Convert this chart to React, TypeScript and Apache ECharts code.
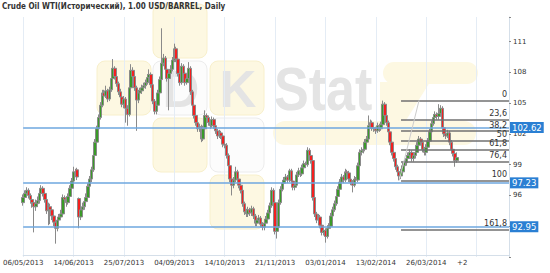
import React, { useEffect, useRef } from 'react';
import * as echarts from 'echarts';

const TITLE = 'Crude Oil WTI(Исторический), 1.00 USD/BARREL, Daily';
const dateLabels = ['06/05/2013', '14/06/2013', '25/07/2013', '04/09/2013', '14/10/2013', '21/11/2013', '03/01/2014', '13/02/2014', '26/03/2014'];
const labelStep = 28;
const extraLabel = '+2';
const extraLabelIndex = 244;
const categoryCount = 271;
const yTickLabels = [96, 99, 102, 105, 108, 111];
const levelLines = [102.62, 97.23, 92.95];
const fibHigh = 105.26;
const fibLow = 97.47;
const fibLevels = [0, 23.6, 38.2, 50, 61.8, 76.4, 100, 161.8];
const fibStartIndex = 210;
const trendStart = [209, 97.47];
const trendEnd = [220, 105.26];

// [open, close, low, high]
const ohlc: number[][] = [
  [95.3, 95.8, 95.0, 96.1], [95.8, 96.2, 95.5, 96.5], [96.2, 96.5, 95.9, 96.8], [96.5, 96.0, 95.7, 96.7],
  [96.0, 95.6, 95.2, 96.2], [95.6, 95.3, 94.8, 95.9], [95.3, 94.9, 92.4, 95.5], [94.9, 95.2, 94.5, 95.6],
  [95.2, 95.5, 94.9, 95.9], [95.5, 96.2, 95.2, 96.5], [96.2, 96.7, 95.9, 97.0], [96.7, 96.2, 95.9, 96.9],
  [96.2, 95.6, 95.3, 96.4], [95.6, 94.5, 94.2, 95.8], [94.5, 94.9, 93.1, 95.3], [94.9, 94.6, 93.2, 95.2],
  [94.6, 94.0, 93.6, 94.9], [94.0, 93.4, 93.0, 94.3], [93.4, 92.8, 91.3, 93.7], [92.8, 93.6, 92.5, 93.9],
  [93.6, 93.9, 93.3, 94.2], [93.9, 94.2, 93.6, 94.6], [94.2, 95.8, 94.0, 96.1], [95.8, 95.6, 95.2, 96.0],
  [95.6, 95.3, 94.9, 95.8], [95.3, 95.9, 95.1, 96.2], [95.9, 96.7, 95.7, 97.0], [96.7, 97.4, 96.5, 97.7],
  [97.4, 98.3, 97.2, 98.8], [98.3, 98.0, 97.8, 98.6], [98.5, 97.8, 97.5, 98.7], [95.7, 93.9, 92.8, 95.8],
  [93.9, 94.6, 93.6, 95.0], [94.6, 94.9, 94.2, 95.3], [94.9, 95.4, 94.6, 95.7], [95.4, 95.8, 95.0, 96.2],
  [95.8, 96.9, 95.6, 97.2], [96.9, 97.6, 96.6, 97.9], [97.6, 98.5, 97.3, 98.8], [98.5, 99.9, 98.3, 100.2],
  [99.9, 101.2, 99.7, 101.5], [101.2, 102.5, 101.0, 102.8], [102.5, 103.6, 102.3, 103.9], [103.6, 104.8, 103.4, 105.1],
  [104.8, 106.0, 104.6, 106.3], [106.0, 105.7, 105.3, 106.3], [105.7, 106.2, 105.5, 106.7], [106.2, 105.4, 105.1, 106.4],
  [105.4, 106.3, 105.2, 106.6], [106.3, 107.4, 106.1, 107.7], [107.4, 108.4, 107.2, 109.3], [108.4, 107.6, 107.3, 108.6],
  [107.6, 106.9, 106.6, 107.9], [106.9, 106.1, 105.8, 107.1], [106.1, 105.6, 105.2, 106.4], [105.6, 104.9, 104.6, 105.9],
  [104.9, 105.4, 104.5, 105.7], [105.4, 104.5, 103.1, 105.6], [104.5, 103.9, 102.8, 104.8], [103.9, 106.5, 103.7, 106.8],
  [106.5, 108.2, 106.3, 108.8], [108.2, 107.6, 107.3, 108.5], [107.6, 106.5, 106.2, 107.8], [106.5, 105.3, 102.3, 106.7],
  [105.3, 106.0, 105.0, 106.3], [106.0, 106.2, 105.7, 106.5], [106.2, 106.5, 105.9, 106.8], [106.5, 106.7, 106.2, 107.0],
  [106.7, 107.0, 106.4, 107.3], [107.0, 107.5, 106.8, 107.8], [107.5, 107.8, 107.2, 108.3], [107.8, 106.8, 106.5, 108.0],
  [106.8, 105.2, 104.9, 107.0], [105.2, 104.2, 103.9, 105.4], [104.2, 104.8, 103.9, 105.1], [104.8, 106.0, 104.6, 106.3],
  [106.0, 107.3, 105.8, 107.6], [107.3, 108.9, 107.1, 112.3], [108.9, 109.4, 108.6, 109.8], [109.4, 108.3, 108.0, 109.6],
  [108.3, 107.4, 107.1, 108.6], [107.4, 107.9, 104.3, 108.2], [107.9, 108.3, 107.6, 108.7], [108.3, 109.2, 108.1, 109.5],
  [109.2, 110.3, 109.0, 110.8], [110.3, 109.3, 109.0, 110.5], [109.3, 107.9, 107.6, 109.5], [107.9, 107.0, 106.7, 108.2],
  [107.0, 108.6, 106.8, 108.9], [108.6, 107.9, 107.6, 108.8], [107.9, 107.0, 106.7, 108.1], [107.0, 107.4, 106.8, 107.7],
  [107.4, 108.4, 107.2, 109.0], [108.4, 106.1, 105.8, 108.6], [106.1, 104.8, 104.5, 106.3], [104.8, 103.8, 103.5, 105.0],
  [103.8, 103.1, 102.8, 104.0], [103.1, 102.5, 102.2, 103.3], [102.5, 102.7, 102.2, 103.0], [102.7, 101.5, 101.2, 102.9],
  [101.5, 102.5, 101.3, 102.8], [102.5, 103.8, 102.3, 104.3], [103.8, 103.6, 103.3, 104.0], [103.6, 103.1, 102.8, 103.8],
  [103.1, 102.8, 102.5, 103.3], [102.8, 103.4, 102.6, 103.7], [103.4, 102.8, 102.5, 103.6], [102.8, 102.3, 102.0, 103.0],
  [102.3, 101.8, 101.5, 102.5], [101.8, 102.1, 101.6, 102.4], [102.1, 101.8, 101.5, 102.3], [101.8, 101.0, 100.7, 102.0],
  [101.0, 100.9, 100.6, 101.2], [100.9, 99.9, 99.6, 101.1], [99.9, 98.9, 98.6, 100.1], [98.9, 97.6, 97.3, 99.1],
  [97.6, 97.0, 96.0, 97.8], [97.0, 97.5, 96.7, 97.8], [97.5, 98.3, 97.3, 98.8], [98.3, 97.6, 97.3, 98.5],
  [97.6, 97.0, 96.7, 97.8], [97.0, 96.5, 96.2, 97.2], [96.5, 95.2, 94.9, 96.7], [95.2, 94.4, 94.1, 95.4],
  [94.4, 94.2, 93.9, 94.7], [94.2, 94.6, 93.9, 94.9], [94.6, 94.3, 94.0, 94.8], [94.3, 94.7, 94.0, 95.0],
  [94.7, 94.0, 93.7, 94.9], [94.0, 93.3, 93.0, 94.2], [93.3, 93.6, 93.0, 93.9], [93.6, 93.8, 93.3, 94.1],
  [93.8, 93.2, 92.9, 94.0], [93.2, 92.9, 92.6, 93.4], [92.9, 93.3, 92.6, 93.6], [93.3, 93.7, 93.0, 94.0],
  [93.7, 94.3, 93.5, 94.6], [94.3, 95.0, 94.0, 95.3], [95.0, 96.5, 94.8, 96.8], [96.5, 95.3, 95.0, 96.7],
  [95.3, 92.5, 92.2, 95.5], [92.5, 92.9, 91.8, 93.3], [92.9, 95.3, 92.7, 95.6], [95.3, 96.6, 95.1, 96.9],
  [96.6, 97.2, 96.4, 97.5], [97.2, 97.5, 96.9, 97.8], [97.5, 97.8, 97.2, 98.1], [97.8, 97.5, 97.2, 98.0],
  [97.5, 98.4, 97.3, 98.6], [98.4, 97.4, 97.1, 98.6], [97.4, 96.8, 96.5, 97.6], [96.8, 97.0, 96.5, 97.3],
  [97.0, 98.0, 96.8, 98.3], [98.0, 98.4, 97.8, 98.7], [98.4, 98.1, 97.8, 98.6], [98.1, 98.7, 97.9, 99.0],
  [98.7, 99.1, 98.5, 99.4], [99.1, 99.0, 98.7, 99.3], [99.0, 100.4, 98.8, 100.7], [100.4, 99.9, 99.6, 100.6],
  [99.9, 99.4, 99.1, 100.1], [99.4, 95.8, 95.5, 99.6], [95.8, 94.2, 93.9, 96.0], [94.2, 93.6, 93.3, 94.4],
  [93.6, 93.9, 93.3, 94.2], [93.9, 93.1, 92.8, 94.1], [93.1, 92.4, 92.1, 93.3], [92.4, 92.6, 92.1, 92.9],
  [92.6, 92.0, 91.4, 92.8], [92.0, 92.8, 91.8, 93.1], [92.8, 93.0, 92.5, 93.3], [93.0, 94.0, 92.8, 94.3],
  [94.0, 94.6, 93.8, 94.9], [94.6, 95.2, 94.4, 95.5], [95.2, 95.9, 95.0, 96.2], [95.9, 96.6, 95.7, 96.9],
  [96.6, 97.3, 96.4, 97.6], [97.3, 97.8, 97.1, 98.1], [97.8, 97.5, 97.2, 98.0], [97.5, 98.3, 97.3, 98.6],
  [98.3, 98.2, 97.9, 98.5], [98.2, 97.6, 97.3, 98.4], [97.6, 97.3, 97.0, 97.8], [97.3, 97.0, 96.3, 97.5],
  [97.0, 97.6, 96.8, 97.9], [97.6, 97.5, 97.2, 97.8], [97.5, 98.9, 97.3, 99.2], [98.9, 100.2, 98.7, 100.5],
  [100.2, 100.4, 99.9, 100.7], [100.4, 100.5, 100.1, 100.8], [100.5, 101.2, 100.3, 101.5], [101.2, 101.5, 100.9, 101.8],
  [101.5, 102.8, 101.3, 103.8], [102.8, 103.1, 102.5, 103.4], [103.1, 102.6, 102.3, 103.3], [102.6, 102.5, 102.2, 102.9],
  [102.5, 102.3, 102.0, 102.7], [102.3, 102.8, 102.1, 103.1], [102.8, 102.5, 102.2, 103.0], [102.5, 102.9, 102.3, 103.2],
  [102.9, 104.9, 102.7, 105.25], [104.9, 103.8, 103.5, 105.1], [103.8, 103.1, 102.8, 104.0], [103.1, 102.2, 101.9, 103.3],
  [102.2, 101.2, 100.9, 102.4], [101.2, 100.2, 99.9, 101.4], [100.2, 99.6, 99.3, 100.4], [99.6, 98.8, 98.5, 99.8],
  [98.8, 98.3, 98.0, 99.0], [98.3, 97.9, 97.47, 98.5], [97.9, 98.3, 97.6, 98.6], [98.3, 98.9, 98.1, 99.2],
  [98.9, 99.2, 98.6, 99.5], [99.2, 99.6, 98.9, 99.9], [99.6, 99.9, 99.3, 100.2], [99.9, 100.2, 99.6, 100.5],
  [100.2, 99.6, 99.3, 100.4], [99.6, 99.9, 99.3, 100.2], [99.9, 100.2, 99.6, 100.5], [100.2, 100.9, 100.0, 101.2],
  [100.9, 101.5, 100.7, 101.8], [101.5, 101.2, 100.9, 101.7], [101.2, 100.5, 100.2, 101.4], [100.5, 100.2, 99.9, 100.7],
  [100.2, 100.7, 99.9, 101.0], [100.7, 101.3, 100.5, 101.6], [101.3, 102.2, 101.1, 102.5], [102.2, 103.0, 102.0, 103.3],
  [103.0, 103.6, 102.8, 103.9], [103.6, 103.9, 103.3, 104.2], [103.9, 103.7, 103.4, 104.1], [103.7, 104.0, 103.4, 104.9],
  [104.0, 104.5, 103.8, 104.8], [104.5, 102.6, 102.3, 104.7], [102.6, 102.0, 101.7, 102.8], [102.0, 101.8, 101.5, 102.2],
  [101.8, 102.1, 101.6, 102.4], [102.1, 101.2, 100.9, 102.3], [101.2, 100.5, 100.2, 101.4], [100.5, 100.1, 99.8, 100.7],
  [100.1, 99.4, 98.8, 100.3], [99.4, 99.7, 99.2, 100.2],
];

const wmYellow = '#fdf8e2';
const wmYellowStroke = '#f8f0cc';
const wmWhite = '#fcfcfc';
const wmWhiteStroke = '#ececec';
const wmText = '#e4e4e4';

export default function App() {
  const ref = useRef<HTMLDivElement>(null);
  useEffect(() => {
    if (!ref.current) return;
    const chart = echarts.init(ref.current, undefined, { renderer: 'svg' });
    const categories = Array.from({ length: categoryCount }, (_, i) => {
      if (i % labelStep === 0 && i / labelStep < dateLabels.length) return dateLabels[i / labelStep];
      if (i === extraLabelIndex) return extraLabel;
      return '';
    });
    const lastIndex = categoryCount - 1;

    const markData: any[] = [];
    levelLines.forEach((v) => {
      markData.push({
        yAxis: v,
        lineStyle: { color: '#6ea7df', width: 1.6, type: 'solid' },
        label: {
          show: true,
          position: 'end',
          distance: 1,
          formatter: v.toFixed(2),
          backgroundColor: '#2a7fd3',
          color: '#ffffff',
          fontSize: 8.5,
          lineHeight: 9,
          fontFamily: 'DejaVu Sans',
          padding: [1, 2, 1, 2],
        },
      });
    });
    const range = fibHigh - fibLow;
    fibLevels.forEach((lv) => {
      const price = fibHigh - (range * lv) / 100;
      markData.push([
        {
          coord: [fibStartIndex, price],
          lineStyle: { color: '#707070', width: 1.5, type: 'solid' },
          label: {
            show: true,
            position: 'insideEndTop',
            distance: 2,
            formatter: String(lv).replace('.', ','),
            color: '#333',
            fontSize: 8,
            fontFamily: 'DejaVu Sans',
          },
        },
        { coord: [lastIndex, price] },
      ]);
    });
    markData.push([
      { coord: trendStart, lineStyle: { color: '#cccccc', width: 1, type: 'solid' }, label: { show: false } },
      { coord: trendEnd },
    ]);

    const sq = (x: number, y: number, yellow: boolean) => ({
      type: 'rect',
      z: -10,
      silent: true,
      shape: { x, y, width: 54, height: 54, r: 8 },
      style: { fill: yellow ? wmYellow : wmWhite, stroke: yellow ? wmYellowStroke : wmWhiteStroke, lineWidth: 1 },
    });
    const letter = (t: string, x: number, y: number, size: number, sx = 1) => ({
      type: 'text',
      z: -9,
      silent: true,
      x,
      y,
      scaleX: sx,
      style: {
        text: t,
        x: 0,
        y: 0,
        fill: wmText,
        font: `bold ${size}px "Liberation Sans"`,
        align: sx === 1 ? 'center' : 'left',
        textAlign: sx === 1 ? 'center' : 'left',
        verticalAlign: 'middle',
        textVerticalAlign: 'middle',
      },
    });

    chart.setOption({
      animation: false,
      backgroundColor: '#ffffff',
      title: {
        text: TITLE,
        left: 2,
        top: 2,
        padding: 0,
        textStyle: { fontSize: 8, fontWeight: 'bold', color: '#333', fontFamily: 'DejaVu Sans Condensed' },
      },
      graphic: [
        sq(97, 61, true),
        sq(153, 4, true),
        sq(153, 61, false),
        sq(210, 61, true),
        sq(153, 118, true),
        sq(210, 118, false),
        sq(210, 175, true),
        { type: 'rect', z: -10, silent: true, shape: { x: 383, y: 62, width: 95, height: 22, r: 11 }, style: { fill: wmYellow } },
        { type: 'polygon', z: -10, silent: true, shape: { points: [[380, 82], [430, 82], [405, 122], [380, 122]] }, style: { fill: wmYellow } },
        { type: 'rect', z: -10, silent: true, shape: { x: 273, y: 121, width: 203, height: 24, r: 12 }, style: { fill: wmYellow } },
        letter('D', 181, 89, 51),
        letter('K', 238, 89, 51),
        letter('Stat', 274, 88, 62, 0.84),
      ],
      grid: { left: 21, right: 41, top: 17, bottom: 16, containLabel: false },
      xAxis: {
        type: 'category',
        data: categories,
        boundaryGap: false,
        offset: -2,
        axisLine: { show: true, lineStyle: { color: '#d5dfe9' } },
        axisTick: { show: false },
        axisLabel: {
          interval: (_i: number, v: string) => v !== '',
          color: '#333',
          fontSize: 7,
          fontFamily: 'DejaVu Sans',
          margin: 4,
        },
        splitLine: { show: true, interval: labelStep - 1, lineStyle: { color: '#e4ecf5', width: 1 } },
      },
      yAxis: {
        type: 'value',
        position: 'right',
        min: 90,
        max: 113.4,
        interval: 3,
        axisLine: { show: true, lineStyle: { color: '#d5dfe9' } },
        axisTick: { show: true, length: 2, lineStyle: { color: '#888' } },
        splitLine: { show: false },
        axisLabel: {
          color: '#333',
          fontSize: 7,
          fontFamily: 'DejaVu Sans',
          margin: 4,
          formatter: (v: number) => (yTickLabels.includes(v) ? String(v) : ''),
        },
      },
      series: [
        {
          type: 'candlestick',
          data: ohlc,
          barWidth: 3,
          itemStyle: {
            color: '#3a9a28',
            color0: '#f51f1f',
            borderColor: '#8a8a8a',
            borderColor0: '#8a8a8a',
            borderWidth: 1,
          },
          markLine: {
            silent: true,
            symbol: ['none', 'none'],
            animation: false,
            data: markData,
          },
        },
      ],
    });
    return () => chart.dispose();
  }, []);
  return <div ref={ref} style={{ position: 'absolute', left: 0, top: 0, width: 550, height: 273 }} />;
}
